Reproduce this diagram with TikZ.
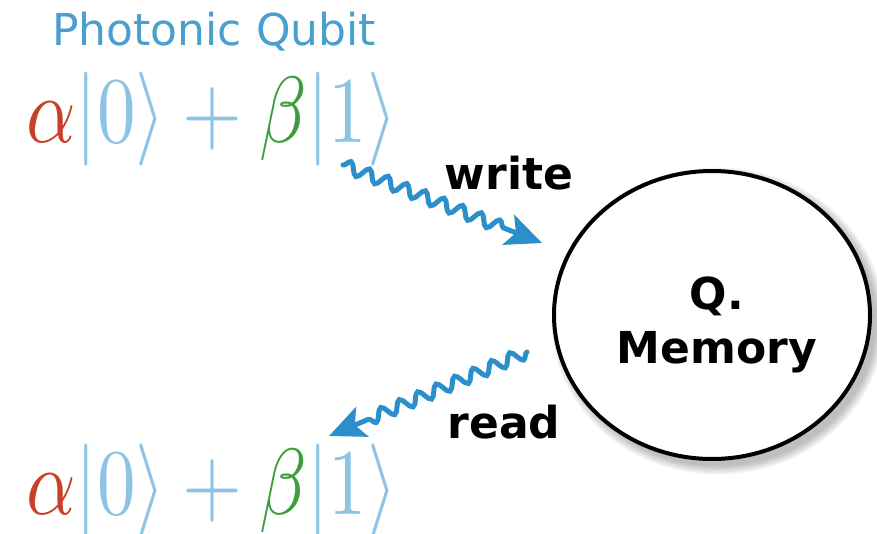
\documentclass[tikz,border=0pt]{standalone}
\usepackage{fontspec}
\usepackage{graphicx}
\newfontfamily\dv{DejaVu Sans}
\usetikzlibrary{decorations.pathmorphing, arrows.meta, shapes.geometric, calc}
\definecolor{qblue}{HTML}{4A9FCF}
\definecolor{kblue}{HTML}{8DC3E3}
\definecolor{ared}{HTML}{C8402A}
\definecolor{bgreen}{HTML}{3E9E3E}
\definecolor{wblue}{HTML}{2A8FCA}
\newcommand{\qstate}{\scalebox{7.7}[9.4]{$\color{ared}\alpha\color{kblue}|0\rangle+\color{bgreen}\beta\color{kblue}|1\rangle$}}
\tikzset{
  photon/.style={draw=wblue, line width=5pt, line cap=round, decorate,
    decoration={snake, amplitude=6pt, segment length=20pt}},
  photonhead/.style={draw=wblue, line width=5pt, -{Stealth[length=36pt, width=32pt, inset=8pt]}},
  lbl/.style={font=\dv\bfseries\fontsize{44}{48}\selectfont, inner sep=0pt},
  qstatenode/.style={inner sep=0pt, anchor=base west}
}
\begin{document}
\begin{tikzpicture}[x=1pt,y=-1pt]
\useasboundingbox (0,0) rectangle (877,534);
\node[font=\dv\fontsize{44}{48}\selectfont, text=qblue, anchor=base west, inner sep=0pt] (title) at (52,46) {Photonic Qubit};
\node[qstatenode] (top) at (26,143) {\qstate};
\node[qstatenode] (bot) at (26,514) {\qstate};
% shadow
\foreach \i in {1,...,8}
  \fill[black, opacity=0.035] (718,321) ellipse ({157+\i*1.2} and {144+\i*1.2});
\node[draw=black, fill=white, line width=4pt, ellipse, minimum width=316pt, minimum height=288pt, inner sep=0pt] (mem) at (712,315) {};
\node[lbl, align=center] (memtxt) at (717,325) {Q.\\[6pt]Memory};
\node[lbl, anchor=base] (write) at (509,190) {write};
\node[lbl, anchor=base] (read) at (504,438) {read};
\coordinate (w1) at (343,165);
\coordinate (w2) at (542,243);
\coordinate (r1) at (527,352);
\coordinate (r2) at (329,436);
\coordinate (wm) at ($(w2)!38pt!(w1)$);
\coordinate (rm) at ($(r2)!38pt!(r1)$);
\draw[photon] (w1) -- (wm);
\draw[photonhead] (wm) -- (w2);
\draw[photon] (r1) -- (rm);
\draw[photonhead] (rm) -- (r2);
\end{tikzpicture}
\end{document}
